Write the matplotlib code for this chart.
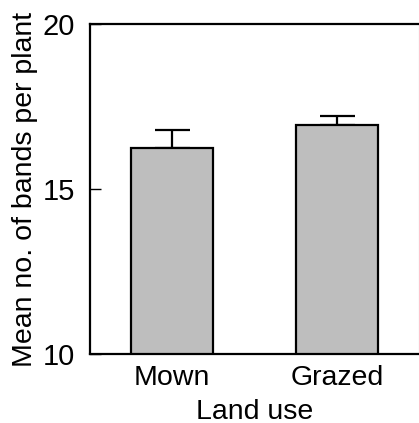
import matplotlib
matplotlib.use("Agg")
import matplotlib.pyplot as plt

categories = ["Mown", "Grazed"]
means = [16.25, 16.95]
errors = [0.55, 0.27]
yticks = [10, 15, 20]

plt.rcParams['font.family'] = ['Liberation Sans', 'DejaVu Sans']

fig = plt.figure(figsize=(4.19, 4.23), dpi=100)
W, H = 419, 423
ax = fig.add_axes([90 / W, 1 - 354 / H, 329 / W, 330 / H])

x = list(range(len(categories)))
ax.bar(x, means, width=0.5, color="#bebebe", edgecolor="black", linewidth=1.6, zorder=2)
ax.errorbar(x, means, yerr=[[0] * len(errors), errors], fmt="none", ecolor="black",
            elinewidth=1.6, capsize=12.6, capthick=1.6, zorder=1)

ax.set_xlim(-0.5, 1.5)
ax.set_ylim(10, 20)
ax.set_yticks(yticks)
ax.set_xticks(x)
ax.set_xticklabels(categories)
ax.tick_params(axis="y", direction="in", length=8, width=1, labelsize=21, pad=11)
ax.tick_params(axis="x", length=0, labelsize=20.5, pad=8)
ax.set_xlabel("Land use", fontsize=20.5, labelpad=6)
ax.set_ylabel("Mean no. of bands per plant", fontsize=20.5, labelpad=3)

for side in ["left", "top", "bottom"]:
    ax.spines[side].set_linewidth(1.6)
ax.spines["right"].set_linewidth(0.8)
ax.spines["right"].set_color("#aaaaaa")

fig.savefig("out.png", dpi=100)
